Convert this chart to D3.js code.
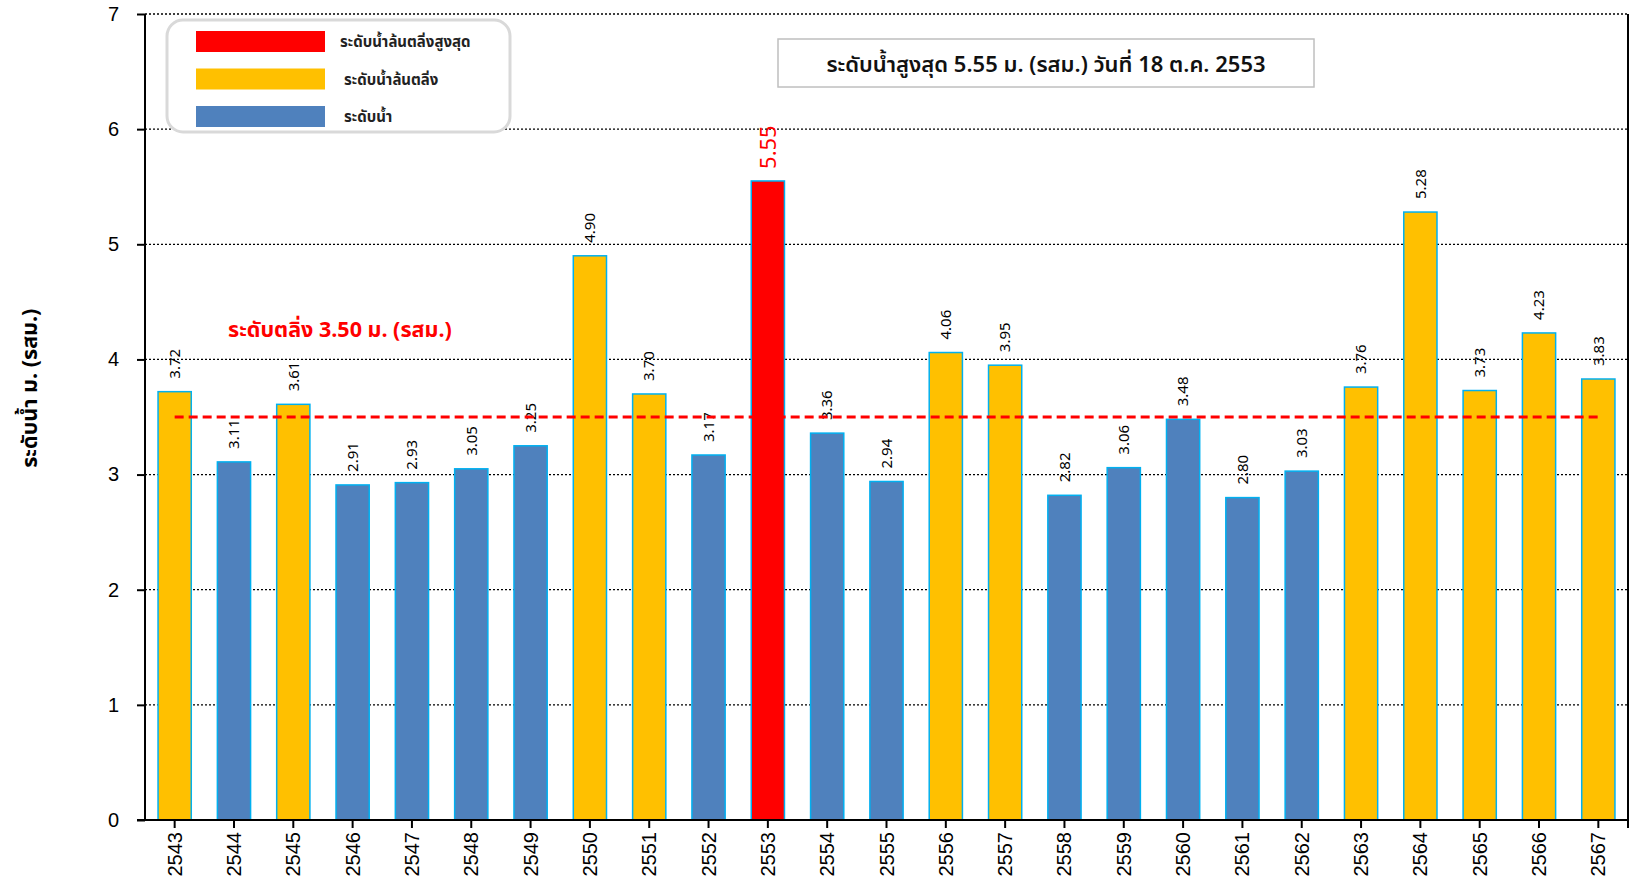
<!DOCTYPE html>
<html>
<head>
<meta charset="utf-8">
<script src="https://cdn.jsdelivr.net/npm/d3@7"></script>
<style>
  body { margin: 0; background: #fff; }
  svg { display: block; font-family: 'Noto Sans Thai', 'Noto Sans', Tahoma, sans-serif; }
  .grid line { stroke: #000; stroke-dasharray: 2,2; stroke-width: 1.3; }
  .axis path, .axis line { stroke: #000; stroke-width: 2; }
  .axis text { fill: #000; font-size: 20px; }
</style>
</head>
<body>
<div id="chart"></div>
<script>
// water level per year (metres, MSL)
let years = ['2543', '2544', '2545', '2546', '2547', '2548', '2549', '2550', '2551', '2552', '2553', '2554', '2555',
  '2556', '2557', '2558', '2559', '2560', '2561', '2562', '2563', '2564', '2565', '2566', '2567']
let levels = [3.72, 3.11, 3.61, 2.91, 2.93, 3.05, 3.25, 4.90, 3.70, 3.17, 5.55, 3.36, 2.94,
  4.06, 3.95, 2.82, 3.06, 3.48, 2.80, 3.03, 3.76, 5.28, 3.73, 4.23, 3.83]
let bankLevel = 3.5
let yTicks = [0, 1, 2, 3, 4, 5, 6, 7]
let legendLabels = ['ระดับน้ำล้นตลิ่งสูงสุด', 'ระดับน้ำล้นตลิ่ง', 'ระดับน้ำ']
let legendColors = ['#ff0000', '#ffc000', '#4f81bd']

let margin = { top: 14, left: 145, right: 7, bottom: 64 }
let width = 1635 - margin.left - margin.right
let height = 884 - margin.top - margin.bottom

let datapoints = years.map((y, i) => ({ year: y, level: levels[i] }))
let maxLevel = d3.max(levels)

let svg = d3
  .select('#chart')
  .append('svg')
  .attr('width', 1635)
  .attr('height', 884)
  .append('g')
  .attr('transform', 'translate(' + margin.left + ',' + margin.top + ')')

let xPositionScale = d3
  .scaleBand()
  .domain(years)
  .range([0, width])
  .paddingInner(0.44)
  .paddingOuter(0.22)

let yPositionScale = d3
  .scaleLinear()
  .domain([0, 7])
  .range([height, 0])

function barColor(d) {
  if (d.level === maxLevel) return legendColors[0]
  if (d.level > bankLevel) return legendColors[1]
  return legendColors[2]
}

// dotted gridlines
svg
  .append('g')
  .attr('class', 'grid')
  .selectAll('line')
  .data(yTicks.filter(d => d > 0))
  .enter()
  .append('line')
  .attr('x1', 0)
  .attr('x2', width)
  .attr('y1', d => yPositionScale(d))
  .attr('y2', d => yPositionScale(d))

// right border
svg
  .append('line')
  .attr('x1', width)
  .attr('x2', width)
  .attr('y1', yPositionScale(7))
  .attr('y2', height)
  .attr('stroke', '#000')
  .attr('stroke-width', 2)

svg
  .selectAll('.bar')
  .data(datapoints)
  .enter()
  .append('rect')
  .attr('class', 'bar')
  .attr('x', d => xPositionScale(d.year))
  .attr('y', d => yPositionScale(d.level))
  .attr('width', xPositionScale.bandwidth())
  .attr('height', d => height - yPositionScale(d.level))
  .attr('fill', barColor)
  .attr('stroke', '#00b0f0')
  .attr('stroke-width', 1.5)

// value labels, rotated
svg
  .selectAll('.value')
  .data(datapoints)
  .enter()
  .append('text')
  .attr('class', 'value')
  .attr('transform', d => {
    let x = xPositionScale(d.year) + xPositionScale.bandwidth() / 2
    let y = yPositionScale(d.level) - (d.level === maxLevel ? 12 : 13)
    return 'translate(' + x + ',' + y + ') rotate(-90)'
  })
  .attr('dy', '0.35em')
  .attr('font-size', d => (d.level === maxLevel ? '22px' : '15px'))
  .attr('fill', d => (d.level === maxLevel ? '#ff0000' : '#000'))
  .text(d => d.level.toFixed(2))

// bank level dashed line
svg
  .append('line')
  .attr('x1', xPositionScale(years[0]) + xPositionScale.bandwidth() / 2)
  .attr('x2', xPositionScale(years[years.length - 1]) + xPositionScale.bandwidth() / 2)
  .attr('y1', yPositionScale(bankLevel))
  .attr('y2', yPositionScale(bankLevel))
  .attr('stroke', '#ff0000')
  .attr('stroke-width', 3)
  .attr('stroke-dasharray', '9,5')

svg
  .append('text')
  .attr('x', 83)
  .attr('y', yPositionScale(bankLevel) - 80)
  .attr('fill', '#ff0000')
  .attr('font-size', '21.5px')
  .attr('font-weight', 'bold')
  .text('ระดับตลิ่ง ' + bankLevel.toFixed(2) + ' ม. (รสม.)')

let yAxis = d3.axisLeft(yPositionScale).tickValues(yTicks).tickFormat(d3.format('d')).tickSize(8).tickPadding(18)
svg
  .append('g')
  .attr('class', 'axis y-axis')
  .call(yAxis)
  .call(g => g.select('.domain').attr('d', 'M0,' + height + 'V' + yPositionScale(7)))

let xAxis = d3.axisBottom(xPositionScale).tickSizeInner(8).tickSizeOuter(8)
svg
  .append('g')
  .attr('class', 'axis x-axis')
  .attr('transform', 'translate(0,' + height + ')')
  .call(xAxis)
  .call(g => g.select('.domain').attr('d', 'M-8,0H' + width + 'V8'))
  .selectAll('text')
  .attr('transform', 'rotate(-90)')
  .attr('text-anchor', 'end')
  .attr('x', -12)
  .attr('y', 0)
  .attr('dy', '0.35em')

// y axis title
svg
  .append('text')
  .attr('transform', 'translate(' + (-116) + ',' + yPositionScale(3.75) + ') rotate(-90)')
  .attr('text-anchor', 'middle')
  .attr('dy', '0.35em')
  .attr('font-size', '21.5px')
  .attr('font-weight', 'bold')
  .text('ระดับน้ำ ม. (รสม.)')

// legend
let legend = svg.append('g').attr('transform', 'translate(22,6)')
legend
  .append('rect')
  .attr('width', 343)
  .attr('height', 112)
  .attr('rx', 16)
  .attr('fill', '#fff')
  .attr('stroke', '#d9d9d9')
  .attr('stroke-width', 3)

legendLabels.forEach((label, i) => {
  legend
    .append('rect')
    .attr('x', 29)
    .attr('y', 11 + i * 37.5)
    .attr('width', 129)
    .attr('height', 21)
    .attr('fill', legendColors[i])
  legend
    .append('text')
    .attr('x', i === 0 ? 173 : 177)
    .attr('y', 22 + i * 37.5)
    .attr('dy', '0.35em')
    .attr('font-size', '15px')
    .attr('font-weight', 'bold')
    .attr('fill', '#222')
    .text(label)
})

// highest level note
let maxYear = datapoints.find(d => d.level === maxLevel).year
let note = svg.append('g').attr('transform', 'translate(633,25)')
note
  .append('rect')
  .attr('width', 536)
  .attr('height', 48)
  .attr('fill', '#fff')
  .attr('stroke', '#bfbfbf')
  .attr('stroke-width', 1.5)
note
  .append('text')
  .attr('x', 268)
  .attr('y', 25)
  .attr('dy', '0.35em')
  .attr('text-anchor', 'middle')
  .attr('font-size', '22px')
  .attr('font-weight', 600)
  .attr('fill', '#111')
  .text('ระดับน้ำสูงสุด ' + maxLevel.toFixed(2) + ' ม. (รสม.) วันที่ 18 ต.ค. ' + maxYear)
</script>
</body>
</html>
